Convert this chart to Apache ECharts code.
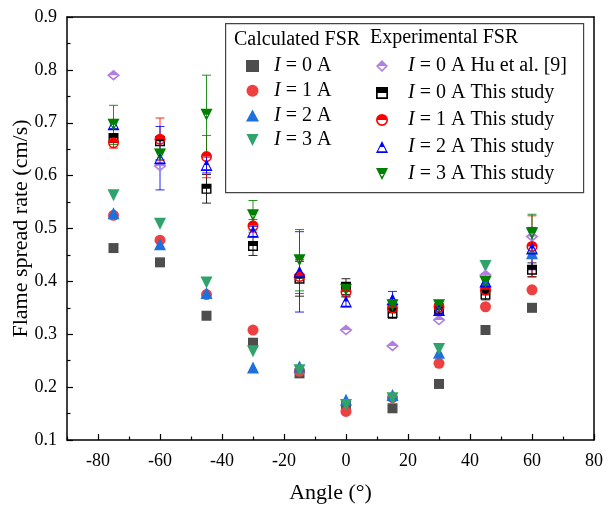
<!DOCTYPE html>
<html>
<head>
<meta charset="utf-8">
<script src="https://cdn.jsdelivr.net/npm/echarts@6/dist/echarts.min.js"></script>
<style>html,body{margin:0;padding:0;background:#fff}#c{width:606px;height:505px}</style>
</head>
<body>
<div id="c"></div>
<script>
// ---- data ----
const angles = [-75, -60, -45, -30, -15, 0, 15, 30, 45, 60];
const xMajorTicks = [-80, -60, -40, -20, 0, 20, 40, 60, 80];
const xMinorTicks = [-90, -70, -50, -30, -10, 10, 30, 50, 70];

// Calculated FSR
const calc0 = [0.463, 0.436, 0.335, 0.284, 0.226, 0.165, 0.160, 0.206, 0.308, 0.350];
const calc1 = [0.525, 0.478, 0.375, 0.308, 0.230, 0.154, 0.180, 0.245, 0.352, 0.384];
const calc2 = [0.529, 0.470, 0.378, 0.237, 0.239, 0.176, 0.185, 0.265, 0.400, 0.453];
const calc3 = [0.563, 0.509, 0.398, 0.268, 0.232, 0.166, 0.179, 0.272, 0.429, 0.490];

// Experimental FSR
const hu0 = [0.790, 0.618, null, null, null, 0.308, 0.278, 0.327, 0.412, 0.485];
const exp0 = [0.671, 0.665, 0.575, 0.467, 0.405, 0.390, 0.340, 0.348, 0.375, 0.422];
const exp0Err = [0.008, 0.008, 0.027, 0.018, 0.033, 0.015, 0.010, 0.010, 0.010, 0.013];
const exp1 = [0.662, 0.669, 0.636, 0.505, 0.409, 0.380, 0.350, 0.352, 0.384, 0.466];
const exp1Err = [0.010, 0.040, 0.040, 0.012, 0.032, 0.010, 0.010, 0.012, 0.010, 0.058];
const exp2 = [0.697, 0.633, 0.620, 0.494, 0.418, 0.362, 0.366, 0.346, 0.400, 0.462];
const exp2Err = [0.008, 0.060, 0.015, 0.010, 0.076, 0.010, 0.015, 0.010, 0.010, 0.040];
const exp3 = [0.696, 0.640, 0.715, 0.525, 0.440, 0.384, 0.355, 0.355, 0.399, 0.491];
const exp3Err = [0.037, 0.010, 0.075, 0.028, 0.058, 0.012, 0.010, 0.008, 0.010, 0.036];

const FONT = '"Liberation Serif", "Times New Roman", serif';

// symbols
const SYM_DOWN_SOLID = 'path://M0 0 L10 0 L5 10 Z';
// half-filled symbols (top half filled, bottom half hollow)
const SYM_SQ = 'path://M0 0 L10 0 L10 10 L0 10 Z M1.4 5 L1.4 8.6 L8.6 8.6 L8.6 5 Z';
const SYM_CI = 'path://M0 5 A5 5 0 1 1 10 5 A5 5 0 1 1 0 5 Z M1.4 5 A3.6 3.6 0 0 0 8.6 5 Z';
const SYM_UP = 'path://M5 0 L10 10 L0 10 Z M3.5 5 L1.7 8.6 L8.3 8.6 L6.5 5 Z';
const SYM_DN = 'path://M0 0 L10 0 L5 10 Z M3.5 5 L5 7.1 L6.5 5 Z';
const SYM_DI = 'path://M5 0 L10 5 L5 10 L0 5 Z M1.9 5 L5 8.1 L8.1 5 Z';

function pairs(vals) { return angles.map((a, i) => [a, vals[i]]).filter(d => d[1] != null); }
function errPairs(vals, errs) { return angles.map((a, i) => [a, vals[i], errs[i]]); }

function errSeries(vals, errs, color) {
  return {
    type: 'custom', xAxisIndex: 0, yAxisIndex: 0, silent: true,
    data: errPairs(vals, errs),
    renderItem: function (params, api) {
      const x = api.value(0), y = api.value(1), e = api.value(2);
      const t = api.coord([x, y + e]), b = api.coord([x, y - e]);
      const hw = 4.5;
      const st = { stroke: color, lineWidth: 1, opacity: 0.85 };
      return { type: 'group', children: [
        { type: 'line', shape: { x1: t[0], y1: t[1], x2: b[0], y2: b[1] }, style: st },
        { type: 'line', shape: { x1: t[0] - hw, y1: t[1], x2: t[0] + hw, y2: t[1] }, style: st },
        { type: 'line', shape: { x1: b[0] - hw, y1: b[1], x2: b[0] + hw, y2: b[1] }, style: st }
      ]};
    }
  };
}
function scat(name, vals, symbol, size, color) {
  return { name: name, type: 'scatter', xAxisIndex: 0, yAxisIndex: 0, data: pairs(vals),
    symbol: symbol, symbolSize: size,
    itemStyle: { color: color, opacity: 1 }, emphasis: { disabled: true } };
}

const labels = {
  c0: '{i|I} = 0 A', c1: '{i|I} = 1 A', c2: '{i|I} = 2 A', c3: '{i|I} = 3 A',
  hu: '{i|I} = 0 A Hu et al. [9]', e0: '{i|I} = 0 A This study', e1: '{i|I} = 1 A This study',
  e2: '{i|I} = 2 A This study', e3: '{i|I} = 3 A This study'
};
const legendText = { fontFamily: FONT, fontSize: 20, color: '#000', lineHeight: 20,
  rich: { i: { fontFamily: FONT, fontSize: 20, fontStyle: 'italic', color: '#000', lineHeight: 20 } } };

const option = {
  animation: false,
  backgroundColor: '#fff',
  grid: { left: 67, right: 12, top: 17, bottom: 65, containLabel: false, outerBoundsMode: 'none' },
  xAxis: [
    { type: 'value', position: 'bottom', min: -90, max: 80,
      name: 'Angle (°)', nameLocation: 'middle', nameGap: 42, nameMoveOverlap: false,
      nameTextStyle: { fontFamily: FONT, fontSize: 22, color: '#000' },
      axisLine: { onZero: false, lineStyle: { color: '#000', width: 1.5 } },
      axisTick: { inside: true, length: 6, lineStyle: { color: '#000', width: 1.2 }, customValues: xMajorTicks },
      axisLabel: { customValues: xMajorTicks, fontFamily: FONT, fontSize: 18, color: '#000', margin: 12 },
      splitLine: { show: false } },
    { type: 'value', position: 'top', min: -90, max: 80,
      axisLine: { onZero: false, lineStyle: { color: '#000', width: 1.5 } },
      axisTick: { show: false }, axisLabel: { show: false }, splitLine: { show: false } },
    { type: 'value', position: 'bottom', min: -90, max: 80,
      axisLine: { show: false, onZero: false },
      axisTick: { inside: true, length: 3.5, lineStyle: { color: '#000', width: 1.2 }, customValues: xMinorTicks },
      axisLabel: { show: false }, splitLine: { show: false } }
  ],
  yAxis: [
    { type: 'value', position: 'left', min: 0.1, max: 0.9, interval: 0.1,
      name: 'Flame spread rate (cm/s)', nameLocation: 'middle', nameGap: 35, nameMoveOverlap: false,
      nameTextStyle: { fontFamily: FONT, fontSize: 22, color: '#000' },
      axisLine: { onZero: false, lineStyle: { color: '#000', width: 1.5 } },
      axisTick: { inside: true, length: 6, lineStyle: { color: '#000', width: 1.2 } },
      minorTick: { show: true, splitNumber: 2, length: 3.5, lineStyle: { color: '#000', width: 1.2 } },
      axisLabel: { fontFamily: FONT, fontSize: 18, color: '#000', margin: 10, formatter: v => v.toFixed(1) },
      splitLine: { show: false } },
    { type: 'value', position: 'right', min: 0.1, max: 0.9,
      axisLine: { onZero: false, lineStyle: { color: '#000', width: 1.5 } },
      axisTick: { show: false }, axisLabel: { show: false }, splitLine: { show: false } }
  ],
  legend: [
    { orient: 'vertical', left: 241, top: 51, itemWidth: 13, itemHeight: 12, itemGap: 4.7,
      data: ['c0', 'c1', 'c2', 'c3'], formatter: n => labels[n], selectedMode: false,
      textStyle: Object.assign({ padding: [0, 0, 0, 10] }, legendText) },
    { orient: 'vertical', left: 371, top: 51, itemWidth: 14, itemHeight: 12, itemGap: 7,
      data: ['hu', 'e0', 'e1', 'e2', 'e3'], formatter: n => labels[n], selectedMode: false,
      textStyle: Object.assign({ padding: [0, 0, 0, 14] }, legendText) }
  ],
  graphic: [
    { type: 'rect', left: 225, top: 23, shape: { width: 358, height: 169 },
      style: { fill: 'rgba(255,255,255,0)', stroke: '#444', lineWidth: 1.2 }, z: 100 },
    { type: 'text', left: 234, top: 30, style: { text: 'Calculated FSR', font: '20px ' + FONT, fill: '#000' }, z: 100 },
    { type: 'text', left: 370, top: 28, style: { text: 'Experimental FSR', font: '20px ' + FONT, fill: '#000' }, z: 100 }
  ],
  series: [
    scat('c0', calc0, 'rect', 10, '#4d4d4d'),
    scat('c1', calc1, 'circle', 11, '#ee4040'),
    scat('c2', calc2, 'triangle', 12, '#1f6fdc'),
    scat('c3', calc3, SYM_DOWN_SOLID, 12, '#2fa36b'),
    scat('hu', hu0, SYM_DI, [13, 11], '#b07fe0'),
    errSeries(exp0, exp0Err, '#000000'),
    scat('e0', exp0, SYM_SQ, 10, '#000000'),
    errSeries(exp1, exp1Err, '#ff0000'),
    scat('e1', exp1, SYM_CI, 11, '#ff0000'),
    errSeries(exp2, exp2Err, '#0000ff'),
    scat('e2', exp2, SYM_UP, 12, '#0000ff'),
    errSeries(exp3, exp3Err, '#007f00'),
    scat('e3', exp3, SYM_DN, 12, '#007f00')
  ]
};
const chart = echarts.init(document.getElementById('c'), null, { renderer: 'canvas' });
chart.setOption(option);
</script>
</body>
</html>
